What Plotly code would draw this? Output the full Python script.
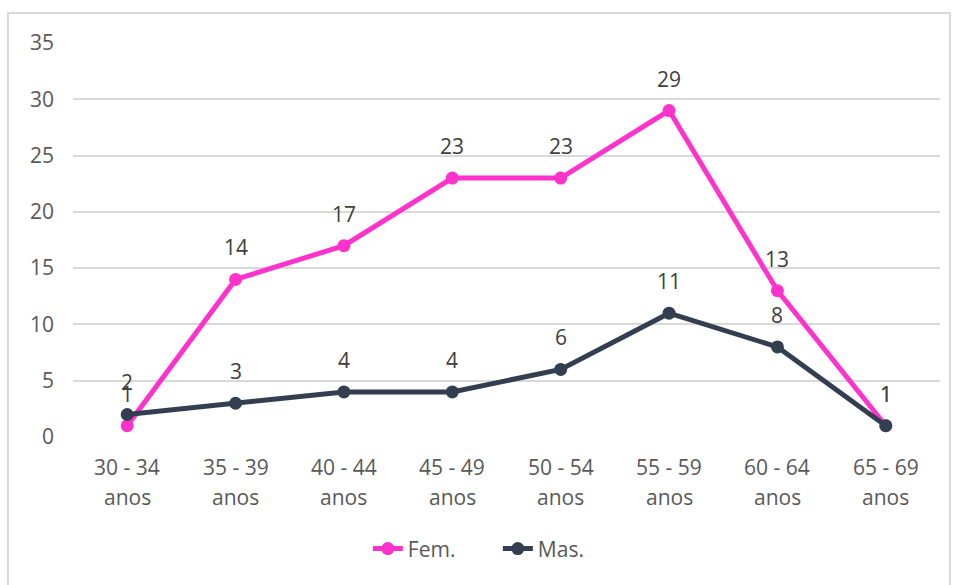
import plotly.graph_objects as go

# Age groups (two-line category labels) and counts per sex
age_groups = ["30 - 34", "35 - 39", "40 - 44", "45 - 49", "50 - 54", "55 - 59", "60 - 64", "65 - 69"]
age_suffix = "anos"
fem_counts = [1, 14, 17, 23, 23, 29, 13, 1]
mas_counts = [2, 3, 4, 4, 6, 11, 8, 1]
y_ticks = [0, 5, 10, 15, 20, 25, 30, 35]

FEM_COLOR = "#FF33CC"
MAS_COLOR = "#333F50"
TICK_COLOR = "#595959"
LABEL_COLOR = "#404040"
GRID_COLOR = "#D9D9D9"
FONT = "Open Sans"
FS = 21

fig = go.Figure()
for name, values, color in [("Fem.", fem_counts, FEM_COLOR), ("Mas.", mas_counts, MAS_COLOR)]:
    fig.add_trace(go.Scatter(
        x=age_groups, y=values, name=name, mode="lines+markers",
        line=dict(color=color, width=5),
        marker=dict(color=color, size=13),
        hoverinfo="x+y+name",
    ))

annotations = []
# data labels above each point
for values in (fem_counts, mas_counts):
    for cat, v in zip(age_groups, values):
        annotations.append(dict(
            x=cat, y=v, xref="x", yref="y", text=str(v), showarrow=False,
            yshift=32, font=dict(family=FONT, size=FS, color=LABEL_COLOR),
        ))
# category labels drawn as two spaced lines
for cat in age_groups:
    annotations.append(dict(
        x=cat, y=-0.076, xref="x", yref="paper", text=cat, showarrow=False,
        yanchor="middle", font=dict(family=FONT, size=FS, color=TICK_COLOR),
    ))
    annotations.append(dict(
        x=cat, y=-0.152, xref="x", yref="paper", text=age_suffix, showarrow=False,
        yanchor="middle", font=dict(family=FONT, size=FS, color=TICK_COLOR),
    ))

fig.update_layout(
    width=955, height=585,
    margin=dict(l=73, r=15, t=43, b=148),
    paper_bgcolor="white", plot_bgcolor="white",
    font=dict(family=FONT, size=FS, color=TICK_COLOR),
    showlegend=True,
    legend=dict(
        orientation="h", x=0.49, y=-0.284, xanchor="center", yanchor="middle",
        entrywidth=85, entrywidthmode="pixels",
        font=dict(family=FONT, size=FS, color=TICK_COLOR),
        itemclick=False,
    ),
    annotations=annotations,
    shapes=[dict(
        type="rect", xref="paper", yref="paper",
        x0=-0.075, x1=1.0115, y0=-0.5, y1=1.076,
        line=dict(color=GRID_COLOR, width=2), fillcolor="rgba(0,0,0,0)", layer="below",
    )],
    xaxis=dict(
        type="category", range=[-0.5, len(age_groups) - 0.5],
        showticklabels=False, showgrid=False, zeroline=False, showline=False,
        fixedrange=True,
    ),
    yaxis=dict(
        range=[0, 35], tickvals=y_ticks, showgrid=True, gridcolor=GRID_COLOR, gridwidth=1.5,
        zeroline=False, showline=False, ticks="", ticklabelstandoff=18,
        tickfont=dict(family=FONT, size=FS, color=TICK_COLOR), fixedrange=True,
    ),
)

fig.write_html("out.html")
